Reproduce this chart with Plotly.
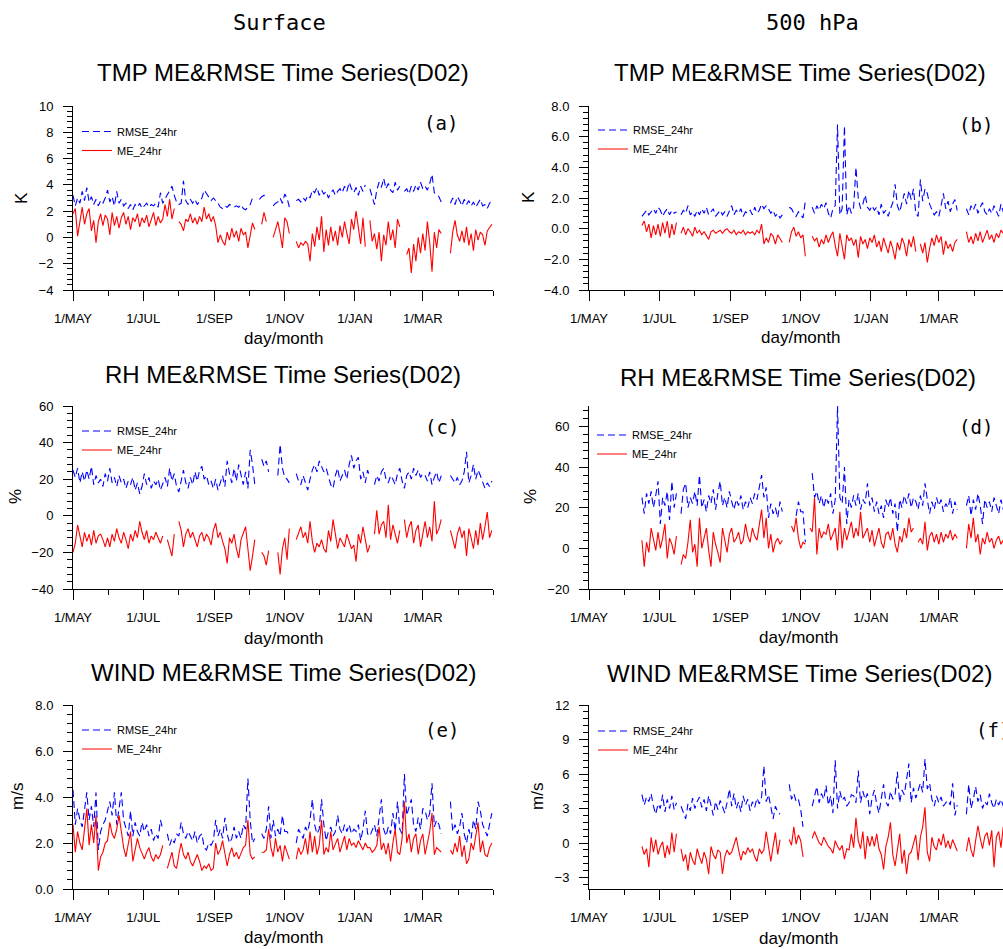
import pandas as pd
import plotly.graph_objects as go

N = None
# sampling dates: every 2 days from 1 May 2017 (183 samples)
dates = pd.date_range("2017-05-01", periods=183, freq="2D")

tick_vals = ["2017-05-01", "2017-07-01", "2017-09-01", "2017-11-01", "2018-01-01", "2018-03-01"]
tick_text = ["1/MAY", "1/JUL", "1/SEP", "1/NOV", "1/JAN", "1/MAR"]
minor_vals = [str(d.date()) for d in pd.date_range("2017-05-01", "2018-05-01", freq="MS")]

# ---------------- (a) Surface TMP (K) ----------------
tmp_sfc_rmse = [
    3.2, 2.4, 3.0, 2.6, 3.5, 2.8, 3.8, 2.7, 3.1, 2.5, 2.9, 2.4, 2.8, 2.6, 3.0, 3.6,
    2.7, 3.1, 2.4, 3.5, 2.6, 2.9, 2.4, 2.6, 2.2, 2.5, 2.1, 2.5, 2.3, 2.6, 2.2,
    2.4, 2.6, 2.3, 2.5, 2.4, 2.6, 2.3, 3.4, 2.6, 2.9, 3.2, 3.6, 3.9, 3.2, 2.7, 2.5,
    2.6, 4.3, 2.8, 2.5, 2.9, 2.6, 2.9, 2.5, 2.8, 3.0, 3.6, 3.3, 3.0, 2.8, 3.0,
    2.8, 2.6, 2.3, 2.2, 2.4, 2.3, 2.5, 2.4, 2.3, 2.4, 2.3, 2.5, 2.2, 2.1, 2.3,
    2.5, 3.0, 2.9, N, 2.9, 3.1, 3.2, 2.9, N, N, 2.4, 2.6, 2.7, 3.0, 2.6, 3.3,
    3.0, 2.3, N, N, 2.8, 2.9, 2.7, 3.0, 2.8, 3.2, 3.0, 3.6, 3.4, 3.8, 3.2,
    3.6, 3.3, 3.5, 3.0, 3.4, 3.6, 3.2, 3.5, 3.7, 3.4, 3.9, 3.5, 4.2, 3.7, 3.4, 3.8,
    3.2, 3.9, 3.5, 4.0, N, 3.7, 3.1, 2.5, 3.6, 4.2, 3.8, 4.5, 3.7, 4.1, 3.6,
    3.4, 4.2, 3.6, 3.9, N, 3.5, 3.7, 3.3, 3.9, 3.5, 4.0, 3.6, 4.2, 3.7,
    3.9, 3.6, 4.1, 4.8, 3.4, 3.3, 3.1, 2.7, N, N, N, 2.6, 3.0, 2.5, 3.1, 2.8,
    2.4, 2.9, 2.5, 2.8, 2.4, 2.7, 2.3, 2.6, 2.9, 2.4, 2.5, 2.2, 2.6, 2.8,
]
tmp_sfc_me = [
    1.8, 2.2, 0.1, 1.2, 2.3, 1.0, 1.8, 2.2, 0.5, 1.3, -0.4, 1.2, 1.8, 0.9, 1.7, 1.4,
    0.2, 1.9, 0.9, 1.6, 0.7, 1.5, 1.9, 1.0, 1.6, 0.6, 1.5, 1.2, 1.8, 0.8, 1.5,
    1.1, 1.7, 0.8, 1.4, 1.9, 0.9, 1.6, 1.1, 1.4, 2.5, 1.6, 2.9, 1.4, 2.2, N, 1.2,
    1.0, 0.5, 1.4, 1.2, 1.8, 1.1, 1.5, 1.0, 1.6, 1.2, 2.3, 1.4, 1.8, 1.2, 1.6,
    0.9, -0.4, 0.2, -0.3, -0.6, 0.4, -0.2, 0.7, 0.0, 0.5, -0.3, 0.7, 0.2, 0.4, -0.8,
    0.3, 1.1, 0.6, N, N, 1.0, 1.9, 1.2, N, N, 0.0, 0.7, 1.2, 0.3, -0.8, 1.5,
    1.2, 0.3, N, N, -0.3, -0.8, -0.4, -0.6, -0.3, -0.5, -1.8, 0.3, -0.7, 0.8, -0.2,
    1.6, -1.1, 0.6, -0.6, 0.8, -0.3, 0.5, -0.6, 0.9, 0.0, 1.2, 0.3, -0.5, 1.4, 0.6, 2.0,
    0.8, -0.5, 1.5, -0.7, N, 1.3, -0.3, 0.3, -0.9, 0.4, -1.8, 0.2, -0.6, 1.2, -0.2,
    0.6, -0.8, 1.4, 0.8, N, N, -1.3, -0.8, -2.7, -0.5, -1.8, 0.0, -1.2, 0.3,
    -1.0, 1.2, -0.4, -2.6, 0.4, -0.8, 0.6, 0.3, N, N, N, -1.2, 0.4, 1.3, 0.2, -0.3,
    0.5, -0.4, 0.8, -0.6, 0.3, -1.0, 0.6, -0.2, 0.4, 0.2, -0.6, 0.5, 0.8, 1.0,
]

# ---------------- (b) 500 hPa TMP (K) ----------------
tmp_500_rmse = [N] * 23 + [
    0.8, 1.0, 1.2, 0.9, 1.1, 1.3, 1.0, 1.4,
    1.2, 0.8, 1.1, 1.3, 0.9, 1.2, 1.0, 1.1, N, 0.9, 1.2, 1.0, 1.5, 0.9, 1.1, 0.8,
    1.2, 0.9, 1.3, 1.0, 1.4, 0.9, 1.1, 1.3, 0.8, 1.0, 1.2, 0.9, 1.1, 0.8, 1.2,
    1.5, 0.9, 1.2, 1.0, 1.3, 0.8, 1.1, 1.0, 1.2, 0.9, 1.4, 1.0, 1.2, 1.6, 1.3,
    1.5, 1.3, 1.0, 1.2, 0.8, 1.0, 0.7, 0.9, N, N, 1.4, 1.3, 1.0, 0.8, 1.1, 0.9,
    0.7, 1.8, N, N, 1.4, 1.0, 1.5, 1.2, 1.6, 1.3, 1.7, 1.0, 0.7, 1.3, 1.5,
    6.8, 0.9, 1.3, 6.7, 0.9, 1.5, 1.0, 1.4, 4.0, 2.0, 1.3, 1.6, 2.2, 1.4, 1.2, 1.5,
    1.2, 1.4, 0.9, 1.6, 1.0, 1.2, 0.8, 1.3, 1.7, 2.9, 1.5, 1.1, 1.8, 2.3, 1.6,
    2.5, 1.9, 2.6, 1.0, 0.8, 3.2, 1.8, 2.6, 2.3, 1.6, 1.2, 0.9, 1.1, 0.8,
    1.5, 2.3, 1.3, 1.8, 1.1, 1.6, 1.9, 1.2, N, N, N, 1.3, 0.9, 1.5, 1.2, 1.6,
    1.0, 1.4, 1.7, 1.1, 0.9, 1.3, 1.0, 1.5, 1.2, 0.8, 1.6, 1.1, 0.9, 1.2,
]
tmp_500_me = [N] * 23 + [
    0.2, 0.5, -0.2, 0.3, -0.6, 0.2, -0.4, 0.3,
    -0.5, 0.4, -0.3, 0.5, -0.6, 0.3, -0.4, 0.4, N, -0.3, 0.1, -0.4, 0.0, -0.2, -0.5, 0.1,
    -0.3, -0.1, -0.4, -0.2, -0.5, -0.7, -0.2, -0.1, -0.3, -0.2, -0.1, -0.3, -0.1, 0.0, -0.2,
    -0.3, -0.1, -0.4, -0.2, -0.3, -0.1, -0.4, -0.2, -0.3, -0.2, -0.4, -0.1, -0.3, 0.3, -1.0,
    -0.6, -0.9, -0.3, -0.5, -1.0, -0.4, -0.7, -0.9, N, N, -0.9, -0.2, 0.1, -0.5, -0.2, -0.6,
    -0.4, -1.8, N, N, -0.5, -0.8, -0.6, -1.2, -0.7, -1.0, -0.4, -0.9, -0.5, -0.2, -1.1,
    -1.8, -0.3, -1.2, -2.0, -0.4, -0.8, -0.6, -1.1, -0.7, -1.9, -0.5, -1.0, -0.7, -1.3, -0.6, -0.9,
    -0.4, -1.2, -0.8, -1.5, -0.6, -1.1, -1.6, -0.8, -1.3, -2.0, -0.9, -1.4, -0.6, -1.0, -1.8,
    -0.7, -1.2, -0.5, -1.5, N, -1.0, -1.6, -0.9, -2.2, -1.3, -0.6, -1.1, -0.4, -0.9,
    -0.5, -1.7, -0.8, -1.3, -1.0, -1.5, -0.9, -0.7, N, N, N, -0.2, -0.9, -0.5, -1.0, -0.3,
    -0.8, -0.2, -0.9, -0.5, -0.1, -0.7, -0.4, -0.9, -0.3, -0.6, -0.1, -0.3, -0.2, -0.1,
]

# ---------------- (c) Surface RH (%) ----------------
rh_sfc_rmse = [
    25, 21, 26, 18, 24, 19, 25, 20, 27, 17, 22, 18, 20, 16, 23, 19,
    26, 18, 21, 16, 22, 18, 20, 15, 19, 17, 21, 14, 18, 12, 16,
    23, 17, 21, 15, 19, 17, 20, 14, 18, 21, 16, 26, 19, 23, 16, 13,
    19, 25, 18, 15, 21, 17, 24, 19, 25, 27, 20, 22, 17, 19, 15,
    20, 14, 18, 22, 16, 30, 23, 18, 26, 19, 28, 22, 17, 24, 15,
    36, 28, 17, N, N, 31, 27, 30, 24, N, 17, N, 22, 39, 26, 21,
    20, 18, N, N, 23, 19, 17, 22, 18, 14, 20, 25, 28, 24, 30,
    27, 24, 26, 21, 17, 15, 22, 26, 19, 22, 25, 20, 28, 33, 26, 30,
    32, 20, 24, 18, 25, 21, N, 17, 22, 19, 24, 26, 20, 18, 22,
    20, 17, 23, 26, 19, 15, 22, 24, 20, 26, 22, 25, 21, 23,
    22, 19, 24, 17, 21, 24, 18, 22, N, N, N, 22, 20, 18, 21, 17,
    19, 24, 35, 18, 22, 28, 20, 25, 22, 19, 15, 18, 16, 19,
]
rh_sfc_me = [
    -20, -15, -5, -12, -17, -9, -14, -10, -16, -8, -15, -11, -10, -13, -17, -12,
    -17, -10, -14, -7, -12, -15, -9, -13, -18, -10, -14, -8, -12, -3, -9,
    -13, -8, -15, -11, -13, -9, -12, -15, -11, N, -13, -18, -22, -10, N, -3,
    -8, -17, -10, -7, -12, -9, -13, -17, -11, -9, -14, -10, -12, -16, -8,
    -4, -12, -9, -14, -18, -26, -12, -15, -10, -18, -23, -13, -9, -6, -18,
    -30, -22, -13, N, N, -20, -22, -27, -19, N, -7, N, -20, -32, -18, -12,
    -24, -7, N, N, -13, -9, -6, -12, -9, -15, -3, -14, -20, -15, -17,
    -13, -18, -20, -8, -14, -2, -10, -18, -12, -15, -17, -10, -14, -18, -16, -25,
    -10, -15, -6, -12, -20, -16, N, -10, 3, -10, -5, -3, -12, 6, -13,
    -5, -10, -15, -8, N, -2, -12, -6, -3, -15, -8, -5, -17, -10,
    -3, -12, -6, -14, 8, -10, -7, -2, N, N, N, -8, -14, -18, -10, -6,
    -12, -8, -22, -7, -12, -18, -8, -16, -4, -13, -6, 2, -12, -8,
]

# ---------------- (d) 500 hPa RH (%) ----------------
rh_500_rmse = [N] * 23 + [
    25, 17, 27, 22, 28, 20, 26, 33,
    12, 25, 21, 28, 14, 33, 20, 27, N, 17, 29, 32, 20, 25, 22, 28,
    21, 36, 20, 24, 18, 26, 22, 29, 19, 27, 33, 21, 25, 20, 28,
    23, 19, 24, 21, 26, 19, 23, 20, 25, 22, 27, 24, 30, 36, 25,
    30, 15, 22, 17, 20, 15, 23, 18, N, N, N, 26, N, 16, 23, 18,
    18, 3, N, N, 37, 25, 28, 22, 26, 20, 25, 22, 27, 17, 24,
    70, 25, 22, 40, 12, 24, 20, 26, 21, 27, 19, 24, 22, 32, 21, 25,
    18, 23, 17, 21, 15, 24, 20, 25, 17, 22, 8, 24, 20, 26, 22,
    27, 20, 25, 23, 19, 26, 21, 32, 24, 17, 23, 19, 25, 21,
    24, 18, 22, 20, 25, 17, 23, 19, N, N, N, 21, 26, 16, 24, 19,
    27, 21, 12, 24, 20, 23, 18, 25, 21, 17, 24, 19, 22, 20,
]
rh_500_me = [N] * 23 + [
    4, -9, 3, -2, 10, 4, -1, 8,
    0, 5, 12, -5, 5, 2, -3, 6, N, -8, -3, -5, 3, 14, -2, 2,
    -9, 15, 0, 5, 10, -1, -9, 8, 2, -2, -7, 10, 3, -2, 7,
    10, 3, 5, 8, 2, 4, 12, 6, 3, 10, 6, 4, 12, 19, 5,
    15, 0, 7, -2, 3, 5, 2, 4, N, N, N, 11, 8, 15, 5, 0,
    3, 2, N, 10, 8, 25, -3, 10, 5, 8, 7, 12, 4, 7, 10,
    -1, 18, 0, 10, 4, 8, 13, 5, 10, 6, 18, 5, 8, 10, 3, 9,
    1, 6, 10, 3, 0, 7, 8, 4, 10, 2, -2, 6, 3, 10, 5,
    15, 8, 10, N, 3, 5, 2, 13, -1, 6, 8, 3, 7, 2,
    8, 3, 7, 5, 9, 4, 7, 5, N, N, N, 0, 12, 5, 15, 3,
    7, -3, 5, 2, 8, 3, 5, 0, 4, 6, 2, 4, 3, 5,
]

# ---------------- (e) Surface WIND (m/s) ----------------
wind_sfc_rmse = [
    4.3, 2.8, 3.5, 3.0, 2.7, 3.4, 4.2, 3.0, 3.6, 2.7, 4.2, 1.7, 2.5, 2.8, 3.0, 3.4,
    3.8, 3.2, 4.2, 2.8, 3.5, 4.2, 3.0, 2.6, 2.3, 3.4, 2.3, 2.9, 2.5, 2.3, 2.9,
    2.5, 2.8, 2.3, 2.6, 2.1, 2.4, 2.2, 3.0, 2.6, N, 2.4, 1.9, 2.2, 2.0, 2.4, 2.3,
    2.9, 2.4, 2.2, 2.5, 2.3, 2.1, 2.5, 2.0, 2.3, 2.4, 1.8, 1.7, 2.0, 1.9, 2.1,
    3.0, 2.3, 2.6, 2.2, 3.1, 2.4, 2.0, 2.2, 2.7, 2.2, 2.5, 2.2, 2.8, 2.6, 4.8,
    3.0, 2.0, 2.2, N, N, 2.4, 2.2, 2.6, 3.6, 2.2, 3.0, 2.3, 2.6, 2.3, 3.2, 2.5,
    2.5, 2.3, N, N, 2.0, 2.6, 2.4, 2.2, 2.7, 2.5, 3.0, 3.9, 2.8, 2.4, 2.6,
    3.9, 2.8, 2.1, 2.5, 2.7, 2.3, 2.5, 3.2, 2.6, 2.4, 2.8, 2.5, 2.8, 2.4, 2.6, 2.5,
    2.8, 2.1, 2.6, 3.4, 2.4, 2.3, 2.6, 2.8, 2.3, 3.2, 3.9, 2.6, 2.3, 2.7, 2.4,
    3.3, 2.5, 3.8, 2.6, 2.4, 5.0, 3.2, 3.6, 3.9, 2.8, 2.5, 3.1, 2.6, 3.5,
    3.4, 3.0, 3.3, 4.6, 2.7, 3.0, 2.8, 2.4, N, N, N, 3.8, 2.5, 2.8, 2.4, 2.7,
    3.3, 2.4, 2.0, 2.6, 2.2, 3.0, 2.6, 3.8, 3.4, 2.8, 2.5, 2.3, 2.8, 3.3,
]
wind_sfc_me = [
    2.8, 1.6, 2.5, 2.0, 1.7, 2.6, 3.5, 1.9, 2.8, 2.0, 3.2, 0.8, 1.4, 1.6, 2.0, 2.1,
    2.9, 2.4, 2.2, 2.6, 3.2, 2.5, 1.8, 1.4, 1.9, 2.5, 1.2, 1.7, 2.2, 1.8, 1.5,
    1.3, 1.6, 1.8, 1.4, 1.2, 1.5, 1.3, 1.5, 1.9, N, 0.9, 1.3, 1.6, 1.0, 0.9, 1.5,
    2.0, 1.5, 1.3, 1.6, 1.2, 1.0, 1.3, 1.5, 1.2, 0.8, 1.0, 0.9, 1.1, 0.8, 0.9,
    2.0, 1.5, 1.7, 2.1, 1.6, 1.0, 1.5, 1.8, 1.4, 1.6, 1.3, 1.6, 1.8, 1.9, 3.0,
    1.5, 1.3, 1.4, N, N, 1.6, 1.6, 1.7, 2.6, 1.8, 1.4, 2.2, 1.6, 1.9, 1.2, 1.9,
    1.6, 1.3, N, N, 1.3, 1.8, 1.5, 1.7, 2.2, 1.5, 2.5, 1.6, 2.3, 1.5, 1.9,
    3.0, 1.5, 1.8, 1.6, 2.5, 1.7, 2.0, 2.2, 1.6, 1.9, 2.3, 1.7, 2.2, 1.9, 2.0, 1.8,
    2.1, 1.9, 1.7, 2.0, 1.8, 1.8, 1.6, 1.7, 1.9, 2.7, 1.7, 2.0, 1.5, 2.0, 1.2,
    2.0, 2.6, 1.6, 1.5, 2.2, 3.8, 2.0, 2.4, 1.6, 2.2, 2.4, 1.5, 2.1, 2.4,
    1.5, 2.0, 2.5, 3.3, 1.5, 1.8, 1.7, 1.6, N, N, N, 1.7, 1.5, 2.0, 1.6, 2.3,
    1.4, 1.9, 1.1, 1.3, 2.0, 1.7, 2.3, 2.9, 1.6, 2.1, 1.5, 1.4, 1.8, 2.0,
]

# ---------------- (f) 500 hPa WIND (m/s) ----------------
wind_500_rmse = [N] * 23 + [
    4.2, 3.3, 4.0, 3.6, 4.3, 3.2, 2.5, 3.4,
    3.0, 4.2, 2.7, 3.8, 3.0, 4.1, 2.9, 3.5, N, 3.2, 2.6, 2.1, 3.4, 2.8, 3.9, 3.0,
    3.6, 4.0, 3.1, 3.8, 2.8, 4.1, 3.3, 2.4, 3.6, 2.9, 3.7, 3.2, 2.6, 3.5, 4.7,
    3.2, 4.3, 3.0, 3.6, 2.7, 4.1, 3.3, 3.8, 2.8, 3.6, 3.1, 3.9, 3.4, 4.0, 6.7,
    3.6, 4.2, 3.0, 2.1, 3.2, 2.7, 2.5, N, N, N, 5.1, 3.8, 4.3, 3.6, 3.8, 2.9,
    1.4, N, N, N, 3.2, 4.2, 4.9, 3.5, 4.3, 3.8, 5.0, 3.3, 4.1, 2.6, 7.2,
    3.0, 4.5, 3.7, 4.0, 3.2, 3.5, 4.2, 4.1, 3.5, 6.3, 3.5, 4.5, 3.8, 4.3, 2.5, 3.9,
    4.6, 3.4, 2.6, 4.0, 5.1, 3.6, 3.2, 4.5, 3.8, 4.2, 6.2, 3.5, 4.6, 4.2, 5.8,
    6.9, 3.5, 4.8, 3.9, 4.5, 5.2, 4.4, 7.3, 4.7, 5.2, 3.8, 3.2, 4.1, 3.5,
    4.0, 3.2, 3.5, 3.7, 3.3, 5.2, 2.4, 3.3, N, N, N, 2.5, 5.1, 3.0, 3.8, 4.9,
    3.6, 4.2, 3.0, 3.6, 3.3, 4.3, 3.5, 3.0, 3.8, 3.3, 3.8, 3.2, 3.6, 3.4,
]
wind_500_me = [N] * 23 + [
    -0.3, -1.0, -0.5, -2.1, 0.5, -0.8, 0.3, -1.0,
    -0.3, 0.1, -1.3, -0.2, -1.0, 0.9, -0.8, 0.8, N, -0.5, -1.6, -1.0, -2.4, -0.8, -1.5, -1.9,
    -0.5, -1.2, -1.8, -0.8, -1.4, -2.7, -0.3, -1.0, -1.4, -0.6, -0.8, -2.7, -1.2, -0.6, -1.0,
    -0.8, -0.2, 0.5, -0.6, -1.5, -0.7, -1.0, -0.4, -0.8, -0.5, -1.2, -1.6, -0.5, -0.9, -0.6,
    1.0, -0.3, -1.6, -0.3, 0.9, -1.0, 0.3, N, N, N, 0.3, -0.2, 1.4, -0.1, 0.7, 0.2,
    -1.2, N, N, N, 0.4, 1.0, 0.5, 0.0, -0.2, 0.5, 0.1, -0.3, -0.5, -0.9, 0.2,
    -0.3, -0.6, -0.2, -1.4, -0.5, -0.6, 0.8, -0.4, 2.2, 0.2, -0.5, 1.0, -1.4, 0.6, -0.3, 0.6,
    -0.3, 0.8, -0.5, -1.0, -2.3, -0.3, 0.5, 1.8, -1.0, -2.0, -0.5, 0.8, -1.8, -0.6, -2.7,
    -1.0, -0.8, 0.1, 0.7, -1.5, 0.5, 1.4, 3.1, -0.8, -1.6, 0.5, -0.3, -0.6, 0.4,
    -0.2, 0.8, -0.4, 0.2, -0.5, 0.3, -0.2, -0.7, N, N, N, -0.7, 0.5, -0.6, -1.2, 0.2,
    1.5, 0.4, -0.5, 0.6, 0.9, -0.2, 1.1, -2.1, 0.5, 1.0, -0.4, 1.4, 0.6, 1.1,
]

panel_titles = ["TMP ME&RMSE Time Series(D02)", "TMP ME&RMSE Time Series(D02)",
                "RH ME&RMSE Time Series(D02)", "RH ME&RMSE Time Series(D02)",
                "WIND ME&RMSE Time Series(D02)", "WIND ME&RMSE Time Series(D02)"]
panel_tags = ["(a)", "(b)", "(c)", "(d)", "(e)", "(f)"]
y_titles = ["K", "K", "%", "%", "m/s", "m/s"]
series = [(tmp_sfc_rmse, tmp_sfc_me), (tmp_500_rmse, tmp_500_me),
          (rh_sfc_rmse, rh_sfc_me), (rh_500_rmse, rh_500_me),
          (wind_sfc_rmse, wind_sfc_me), (wind_500_rmse, wind_500_me)]

# ---------------- layout helpers ----------------
W, H = 1003, 949
def px(x):
    return x / W
def py(y):
    return 1 - y / H

col_x = [(73, 493), (589, 1003)]
row_y = [(106, 290), (406, 589), (705, 889)]
y_ranges = [[-4, 10], [-4, 8], [-40, 60], [-20, 70], [0, 8], [-4, 12]]
y_dticks = [2, 2, 20, 20, 2, 3]
y_tick0 = [0, 0, 0, 0, 0, 0]
y_fmt = ["d", ".1f", "d", "d", ".1f", "d"]
x_ranges = [["2017-05-01", "2018-05-01"], ["2017-05-01", "2018-04-25 19:00"]]

title_pos = [(283, 73), (800, 73), (283, 374), (798, 377), (283, 672), (799, 673)]
xlab_pos = [(283, 338), (800, 337), (283, 638), (798, 637), (283, 937), (798, 938)]
ylab_pos = [(21, 198), (528, 197), (15, 497), (530, 497), (17, 797), (537, 797)]
tag_pos = [(441, 123), (976, 125), (442, 427), (976, 427), (442, 730), (993, 730)]
legend_pos = [(77, 117), (593, 115.5), (77, 416.5), (592, 420.5), (77, 715.5), (593, 716.5)]

FONT = "Liberation Sans, Arial, sans-serif"
MONO = "DejaVu Sans Mono, monospace"

fig = go.Figure()
layout = dict(
    width=W, height=H, margin=dict(l=0, r=0, t=0, b=0, autoexpand=False),
    paper_bgcolor="white", plot_bgcolor="white",
    font=dict(family=FONT, color="black", size=13),
    showlegend=True,
)
annotations = []

for i in range(6):
    r, c = divmod(i, 2)
    k = "" if i == 0 else str(i + 1)
    rm, me = series[i]
    rm = (list(rm) + [None] * 183)[:183]
    me = (list(me) + [None] * 183)[:183]
    lg = "legend" + k
    fig.add_trace(go.Scatter(x=dates, y=rm, mode="lines", name="RMSE_24hr",
                             line=dict(color="#0000FF", width=1.1, dash="7px,4px"),
                             xaxis="x" + k, yaxis="y" + k, legend=lg, connectgaps=False))
    fig.add_trace(go.Scatter(x=dates, y=me, mode="lines", name="ME_24hr",
                             line=dict(color="#FF0000", width=1.1),
                             xaxis="x" + k, yaxis="y" + k, legend=lg, connectgaps=False))
    x0, x1 = col_x[c]
    ytop, ybot = row_y[r]
    layout["xaxis" + k] = dict(
        domain=[px(x0), px(x1)], anchor="y" + k, range=x_ranges[c], type="date",
        tickmode="array", tickvals=tick_vals, ticktext=tick_text,
        ticks="outside", ticklen=10, tickwidth=1, tickcolor="black",
        showline=True, linecolor="black", linewidth=1, showgrid=False, zeroline=False,
        tickfont=dict(size=13, family=FONT), ticklabelstandoff=6,
        minor=dict(tickmode="array", tickvals=minor_vals, ticks="outside",
                   ticklen=5, tickcolor="black", showgrid=False),
        fixedrange=True,
    )
    layout["yaxis" + k] = dict(
        domain=[py(ybot), py(ytop)], anchor="x" + k, range=y_ranges[i],
        tick0=y_tick0[i], dtick=y_dticks[i], tickformat=y_fmt[i],
        ticks="outside", ticklen=9, tickwidth=1, tickcolor="black",
        showline=True, linecolor="black", linewidth=1, showgrid=False, zeroline=False,
        tickfont=dict(size=13, family=FONT), ticklabelstandoff=7,
        minor=dict(dtick=y_dticks[i] / 5, tick0=y_tick0[i], ticks="outside",
                   ticklen=5, tickcolor="black", showgrid=False),
        fixedrange=True,
    )
    lx, ly = legend_pos[i]
    layout[lg] = dict(x=px(lx), y=py(ly), xanchor="left", yanchor="top",
                      bgcolor="rgba(0,0,0,0)", borderwidth=0,
                      font=dict(size=11, family=FONT, color="black"),
                      itemwidth=30, tracegroupgap=0, traceorder="normal")
    tx, ty = title_pos[i]
    annotations.append(dict(text=panel_titles[i], x=px(tx), y=py(ty), xref="paper", yref="paper",
                            showarrow=False, xanchor="center", yanchor="middle",
                            font=dict(size=24, family=FONT, color="black")))
    lxp, lyp = xlab_pos[i]
    annotations.append(dict(text="day/month", x=px(lxp), y=py(lyp), xref="paper", yref="paper",
                            showarrow=False, xanchor="center", yanchor="middle",
                            font=dict(size=17, family=FONT, color="black")))
    yxp, yyp = ylab_pos[i]
    annotations.append(dict(text=y_titles[i], x=px(yxp), y=py(yyp), xref="paper", yref="paper",
                            showarrow=False, xanchor="center", yanchor="middle", textangle=-90,
                            font=dict(size=17, family=FONT, color="black")))
    gx, gy = tag_pos[i]
    annotations.append(dict(text=panel_tags[i], x=px(gx), y=py(gy), xref="paper", yref="paper",
                            showarrow=False, xanchor="center", yanchor="middle",
                            font=dict(size=19, family=MONO, color="black")))

annotations.append(dict(text="Surface", x=px(279), y=py(22), xref="paper", yref="paper",
                        showarrow=False, xanchor="center", yanchor="middle",
                        font=dict(size=22, family=MONO, color="black")))
annotations.append(dict(text="500 hPa", x=px(812), y=py(22), xref="paper", yref="paper",
                        showarrow=False, xanchor="center", yanchor="middle",
                        font=dict(size=22, family=MONO, color="black")))
layout["annotations"] = annotations
fig.update_layout(**layout)
fig.write_html("out.html", config={"displayModeBar": False},
               post_script="document.body.style.margin='0px';document.body.style.overflow='hidden';")
